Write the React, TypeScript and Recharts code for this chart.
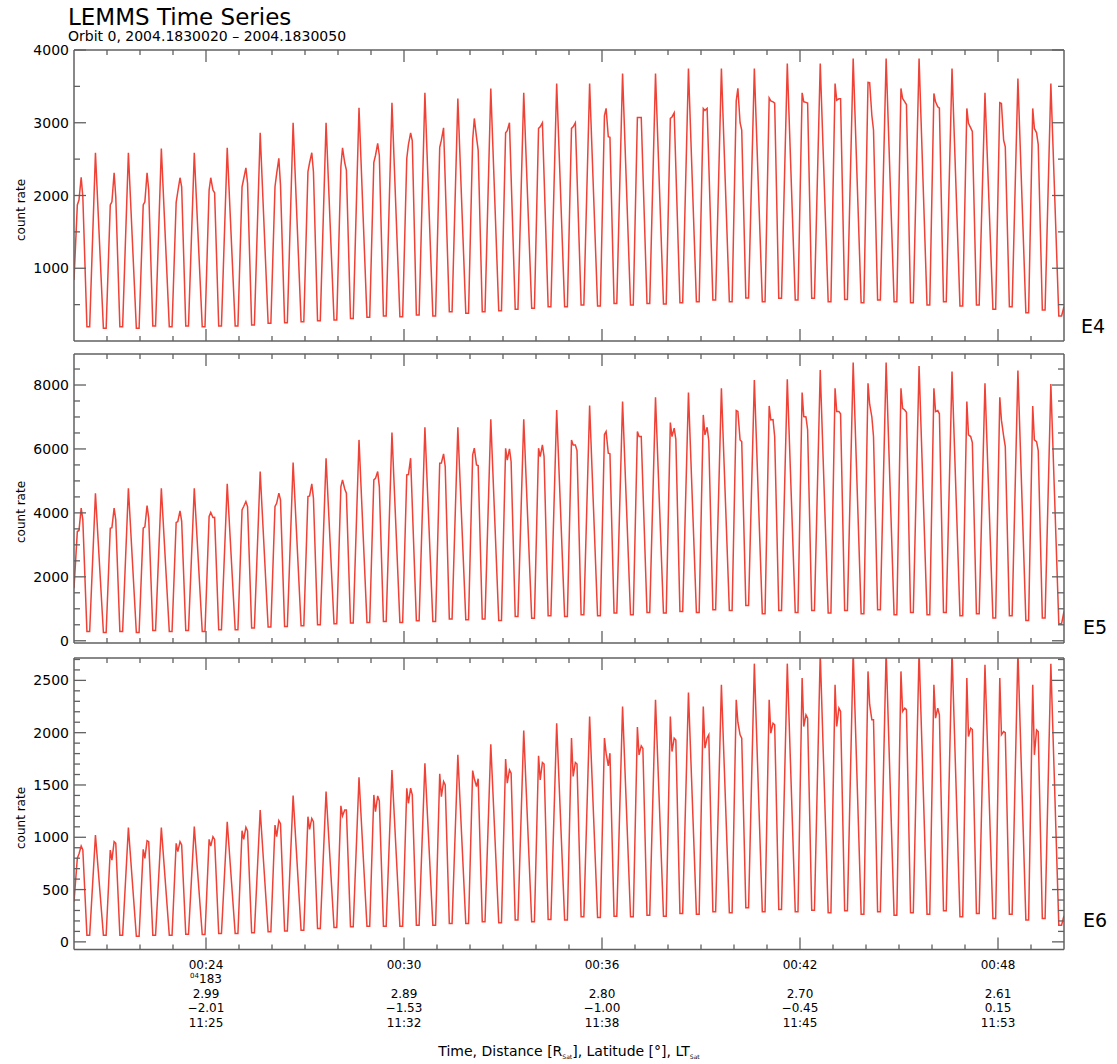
import React from 'react';
import { LineChart, Line, XAxis, YAxis } from 'recharts';

const _ = null;
const FONT = '"DejaVu Sans", "Liberation Sans", sans-serif';
const AXIS_COLOR = '#606060';
const LINE_COLOR = '#ef4136';

// ---- time axis (seconds after 00:20:00) ----
const MINUTE_TICKS = [60, 120, 180, 240, 300, 360, 420, 480, 540, 600, 660, 720, 780, 840, 900, 960, 1020, 1080, 1140, 1200, 1260, 1320, 1380, 1440, 1500, 1560, 1620, 1680, 1740];
const MAJOR_TIMES = [240, 600, 960, 1320, 1680];
const TIME_LABELS = ['00:24', '00:30', '00:36', '00:42', '00:48'];
const DOY_LABELS = ['183', '', '', '', ''];
const DIST_LABELS = ['2.99', '2.89', '2.80', '2.70', '2.61'];
const LAT_LABELS = ['\u22122.01', '\u22121.53', '\u22121.00', '\u22120.45', '0.15'];
const LT_LABELS = ['11:25', '11:32', '11:38', '11:45', '11:53'];

// spin-cycle timing read from trough positions (cycle k = -1 .. 59)
const FIRST_TROUGH = -3.95;
const SPIN_PERIOD = 29.95;
const SLOT_OFFSETS = [-2.5, 2.5, 10, 13, 17, 20];

// ---- E4 ----
const E4_START = 840;
const E4_END = 470;
const E4_TROUGH = [
  _, 197, 174, 197, 174, 206, 197, 206, 197, 206,
  206, 220, 243, 252, 266, 280, 289, 311, 325, 343,
  334, 357, 343, 403, 380, 403, 417, 435, 449, 472,
  472, 495, 481, 517, 495, 517, 508, 527, 540, 563,
  540, 590, 540, 586, 563, 586, 540, 572, 527, 563,
  540, 527, 495, 540, 481, 495, 435, 472, 389, 426,
  343,
];
const E4_A = [
  1870, _, 1870, _, 1870, _, 1905, _, 2075, _,
  2120, _, 2120, _, 2327, _, 2395, _, 2455, _,
  2510, _, 2661, _, 2762, _, 2862, _, 2922, _,
  2922, _, 3100, _, 3073, _, 3059, _, 3197, _,
  3300, _, 3340, _, 3412, _, 3540, _, 3554, _,
  3472, _, 3403, _, 3197, _, 3275, _, 3197, _,
  _,
];
const E4_B = [
  1937, 2588, 1914, 2588, 1914, 2647, 2052, 2588, 2244, 2656,
  2230, 2862, 2300, 3000, 2450, 3000, 2656, 3206, 2550, 3275,
  2700, 3412, 2760, 3334, 3059, 3472, 2890, 3412, 2945, 3540,
  2945, 3540, 3197, 3678, 3073, 3678, 3080, 3746, 3170, 3746,
  3472, 3746, 3300, 3815, 3288, 3815, 3311, 3884, 3550, 3884,
  3334, 3884, 3288, 3746, 2991, 3412, 3265, 3609, 2922, 3540,
  _,
];
const E4_C = [
  2250, _, 2313, _, 2313, _, 2244, _, 2075, _,
  2381, _, 2510, _, 2588, _, 2450, _, 2716, _,
  2862, _, 2931, _, 2800, _, 3000, _, 3000, _,
  3000, _, 2807, _, 3073, _, 3137, _, 3197, _,
  3000, _, 3288, _, 3280, _, 3330, _, 3100, _,
  3288, _, 3220, _, 2930, _, 2762, _, 2862, _,
  _,
];
const E4_D = [
  1983, _, 1983, _, 2075, _, 2120, _, 2038, _,
  2166, _, 2143, _, 2327, _, 2350, _, 2550, _,
  2750, _, _, _, 2624, _, _, _, _, _,
  _, _, 2800, _, _, _, _, _, _, _,
  2900, _, 3270, _, 3270, _, 3330, _, 2900, _,
  3250, _, 3200, _, 2880, _, 2670, _, 2700, _,
  _,
];

// ---- E5 ----
const E5_START = 1646;
const E5_END = 917;
const E5_TROUGH = [
  _, 292, 260, 292, 260, 323, 292, 323, 292, 344,
  344, 396, 427, 448, 469, 500, 531, 552, 573, 604,
  573, 625, 604, 677, 656, 677, 636, 760, 708, 781,
  760, 813, 781, 865, 813, 886, 865, 917, 886, 969,
  948, 1100, 844, 948, 886, 948, 865, 948, 844, 969,
  813, 886, 813, 886, 781, 844, 709, 781, 636, 709,
  531,
];
const E5_A = [
  3417, _, 3522, _, 3522, _, 3699, _, 3887, _,
  4095, _, 4199, _, 4512, _, 4824, _, 5033, _,
  5189, _, 5554, _, 5814, _, 6020, _, 6023, _,
  6283, _, 6450, _, 6544, _, 6825, _, 7065, _,
  7200, _, 7346, _, 7763, _, 7898, _, 8055, _,
  7898, _, 7898, _, 7482, _, 7617, _, 7346, _,
  _,
];
const E5_B = [
  3450, 4616, 3540, 4772, 3560, 4772, 3730, 4772, 4012, 4908,
  4199, 5293, 4300, 5575, 4530, 5710, 5033, 6283, 5080, 6513,
  5200, 6679, 5560, 6679, 6023, 6929, 5650, 6929, 5762, 7221,
  6127, 7357, 6544, 7482, 6388, 7617, 6388, 7763, 6440, 7898,
  7170, 8159, 6908, 8180, 7013, 8471, 7169, 8700, 7400, 8700,
  7273, 8597, 7169, 8419, 6440, 8055, 6900, 8451, 6283, 8034,
  _,
];
const E5_C = [
  4147, _, 4147, _, 4231, _, 4064, _, 3855, _,
  4356, _, 4616, _, 4908, _, 4750, _, 5293, _,
  5710, _, 5846, _, 5502, _, 6000, _, 6127, _,
  6127, _, 5866, _, 6388, _, 6648, _, 6679, _,
  6283, _, 6920, _, 7000, _, 7169, _, 7000, _,
  7220, _, 7200, _, 6388, _, 6400, _, 6230, _,
  _,
];
const E5_D = [
  3782, _, 3782, _, 3835, _, 3740, _, 3860, _,
  4199, _, 4408, _, 4460, _, 4616, _, 4824, _,
  _, _, 5450, _, 5480, _, 5600, _, 5762, _,
  5950, _, 5850, _, _, _, 6300, _, 6250, _,
  6230, _, 6390, _, 6600, _, 7100, _, 6388, _,
  7150, _, 7100, _, 6200, _, 6075, _, 5950, _,
  _,
];

// ---- E6 ----
const E6_START = 383;
const E6_END = 250;
const E6_TROUGH = [
  _, 64, 64, 64, 54, 64, 64, 73, 70, 80,
  80, 86, 96, 105, 112, 128, 137, 144, 150, 150,
  150, 160, 160, 176, 176, 192, 182, 208, 192, 214,
  208, 240, 233, 246, 240, 255, 246, 271, 265, 287,
  278, 327, 287, 310, 287, 303, 278, 297, 265, 287,
  255, 278, 265, 297, 240, 271, 224, 265, 208, 224,
  160,
];
const E6_A = [
  800, _, 878, _, 884, _, 942, _, 980, _,
  1063, _, 1117, _, 1197, _, 1300, _, 1405, _,
  1469, _, 1606, _, 1638, _, 1747, _, 1779, _,
  1948, _, 1948, _, 2053, _, 2155, _, 2251, _,
  2315, _, 2315, _, 2522, _, 2459, _, 2586, _,
  2586, _, 2459, _, 2522, _, 2522, _, 2459, _,
  _,
];
const E6_B = [
  840, 1022, 782, 1092, 798, 1092, 862, 1102, 916, 1149,
  980, 1261, 1006, 1398, 1076, 1437, 1204, 1574, 1245, 1644,
  1325, 1708, 1389, 1788, 1560, 1890, 1517, 2021, 1549, 2091,
  1581, 2155, 1804, 2251, 1788, 2315, 1820, 2385, 1852, 2459,
  2100, 2660, 1996, 2660, 2059, 2760, 2059, 2780, 2270, 2780,
  2203, 2780, 2139, 2780, 1964, 2650, 1980, 2780, 1788, 2660,
  _,
];
const E6_C = [
  916, _, 958, _, 967, _, 958, _, 1006, _,
  1095, _, 1159, _, 1180, _, 1261, _, 1395, _,
  1469, _, 1533, _, 1485, _, 1644, _, 1715, _,
  1715, _, 1683, _, 1874, _, 1948, _, 1950, _,
  1980, _, 2091, _, 2171, _, 2235, _, 2123, _,
  2235, _, 2235, _, 2043, _, 2011, _, 2027, _,
  _,
];
const E6_D = [
  880, _, 942, _, 958, _, 926, _, 980, _,
  1060, _, 1130, _, 1150, _, 1261, _, 1347, _,
  1405, _, 1500, _, 1560, _, 1612, _, 1700, _,
  1700, _, 1804, _, 1850, _, 1930, _, 1980, _,
  1948, _, 2075, _, 2139, _, 2203, _, 2123, _,
  2220, _, 2171, _, 2030, _, 2000, _, 2011, _,
  _,
];

// ---- y-axis ticks ----
const E4_TICKS = [500, 1000, 1500, 2000, 2500, 3000, 3500, 4000];
const E4_LABELED = [1000, 2000, 3000, 4000];
const E5_TICKS = [0, 500, 1000, 1500, 2000, 2500, 3000, 3500, 4000, 4500, 5000, 5500, 6000, 6500, 7000, 7500, 8000, 8500];
const E5_LABELED = [0, 2000, 4000, 6000, 8000];
const E6_TICKS = [0, 100, 200, 300, 400, 500, 600, 700, 800, 900, 1000, 1100, 1200, 1300, 1400, 1500, 1600, 1700, 1800, 1900, 2000, 2100, 2200, 2300, 2400, 2500, 2600, 2700];
const E6_LABELED = [0, 500, 1000, 1500, 2000, 2500];

type Pt = { t: number; v: number };

function buildSeries(start: number, end: number, trough: any[], a: any[], b: any[], c: any[], d: any[]): Pt[] {
  const pts: Pt[] = [{ t: 0, v: start }];
  for (let i = 0; i < trough.length; i++) {
    const T = FIRST_TROUGH + i * SPIN_PERIOD;
    const vals = [trough[i], trough[i], a[i], b[i], c[i], d[i]];
    for (let j = 0; j < SLOT_OFFSETS.length; j++) {
      const t = T + SLOT_OFFSETS[j];
      if (vals[j] != null && t > 0 && t < 1800) pts.push({ t, v: vals[j] });
    }
  }
  pts.push({ t: 1800, v: end });
  return pts;
}

const E4_DATA = buildSeries(E4_START, E4_END, E4_TROUGH, E4_A, E4_B, E4_C, E4_D);
const E5_DATA = buildSeries(E5_START, E5_END, E5_TROUGH, E5_A, E5_B, E5_C, E5_D);
const E6_DATA = buildSeries(E6_START, E6_END, E6_TROUGH, E6_A, E6_B, E6_C, E6_D);

function makeXTick(side: 'top' | 'bottom', withLabels: boolean) {
  return (props: any) => {
    const { x, y, payload } = props;
    const idx = MAJOR_TIMES.indexOf(payload.value);
    const major = idx >= 0;
    const len = major ? 12 : 5;
    const dir = side === 'bottom' ? -1 : 1;
    return (
      <g>
        <line x1={x} y1={y} x2={x} y2={y + dir * len} stroke={AXIS_COLOR} strokeWidth={1.3} />
        {withLabels && major && (
          <g fontFamily={FONT} fontSize={12} fill="#000" textAnchor="middle">
            <text x={x} y={y + 19}>{TIME_LABELS[idx]}</text>
            {DOY_LABELS[idx] !== '' && (
              <text x={x} y={y + 33.5}>
                <tspan fontSize={7} dy={-5}>04</tspan>
                <tspan fontSize={12} dy={5}>{DOY_LABELS[idx]}</tspan>
              </text>
            )}
            <text x={x} y={y + 48}>{DIST_LABELS[idx]}</text>
            <text x={x} y={y + 62.5}>{LAT_LABELS[idx]}</text>
            <text x={x} y={y + 77}>{LT_LABELS[idx]}</text>
          </g>
        )}
      </g>
    );
  };
}

function makeYTick(side: 'left' | 'right', labeled: number[]) {
  return (props: any) => {
    const { x, y, payload } = props;
    const major = labeled.indexOf(payload.value) >= 0;
    const len = major ? 12 : 6;
    const dir = side === 'left' ? 1 : -1;
    return (
      <g>
        <line x1={x} y1={y} x2={x + dir * len} y2={y} stroke={AXIS_COLOR} strokeWidth={1.3} />
        {side === 'left' && major && (
          <text x={x - 5} y={y + 5} textAnchor="end" fontFamily={FONT} fontSize={14} fill="#000">
            {payload.value}
          </text>
        )}
      </g>
    );
  };
}

type PanelProps = {
  data: Pt[];
  domain: [number, number];
  ticks: number[];
  labeled: number[];
  top: number;
  height: number;
  marginTop: number;
  marginBottom: number;
  xAxisHeight: number;
  bottomLabels: boolean;
};

function Panel(p: PanelProps) {
  const axisLine = { stroke: AXIS_COLOR, strokeWidth: 1.5 };
  return (
    <div style={{ position: 'absolute', left: 0, top: p.top, width: 1117, height: p.height }}>
      <LineChart
        width={1117}
        height={p.height}
        data={p.data}
        margin={{ top: p.marginTop, right: 52, bottom: p.marginBottom, left: 0 }}
      >
        <XAxis
          xAxisId="b"
          dataKey="t"
          type="number"
          orientation="bottom"
          domain={[0, 1800]}
          allowDataOverflow
          ticks={MINUTE_TICKS}
          interval={0}
          height={p.xAxisHeight}
          tickSize={0}
          tickMargin={0}
          tickLine={false}
          axisLine={axisLine}
          tick={makeXTick('bottom', p.bottomLabels)}
        />
        <XAxis
          xAxisId="t"
          dataKey="t"
          type="number"
          orientation="top"
          domain={[0, 1800]}
          allowDataOverflow
          ticks={MINUTE_TICKS}
          interval={0}
          height={1}
          tickSize={0}
          tickMargin={0}
          tickLine={false}
          axisLine={axisLine}
          tick={makeXTick('top', false)}
        />
        <YAxis
          yAxisId="l"
          type="number"
          orientation="left"
          domain={p.domain}
          allowDataOverflow
          ticks={p.ticks}
          interval={0}
          width={74}
          tickSize={0}
          tickMargin={0}
          tickLine={false}
          axisLine={axisLine}
          tick={makeYTick('left', p.labeled)}
        />
        <YAxis
          yAxisId="r"
          type="number"
          orientation="right"
          domain={p.domain}
          allowDataOverflow
          ticks={p.ticks}
          interval={0}
          width={1}
          tickSize={0}
          tickMargin={0}
          tickLine={false}
          axisLine={axisLine}
          tick={makeYTick('right', p.labeled)}
        />
        <Line
          xAxisId="t"
          yAxisId="r"
          type="linear"
          dataKey="v"
          stroke="none"
          strokeWidth={0}
          dot={false}
          activeDot={false}
          isAnimationActive={false}
        />
        <Line
          xAxisId="b"
          yAxisId="l"
          type="linear"
          dataKey="v"
          stroke={LINE_COLOR}
          strokeWidth={1.5}
          dot={false}
          activeDot={false}
          isAnimationActive={false}
        />
      </LineChart>
    </div>
  );
}

export default function App() {
  return (
    <div style={{ position: 'absolute', left: 0, top: 0, width: 1117, height: 1064, background: '#fff' }}>
      <Panel data={E4_DATA} domain={[0, 4000]} ticks={E4_TICKS} labeled={E4_LABELED}
        top={0} height={352} marginTop={49} marginBottom={10} xAxisHeight={1} bottomLabels={false} />
      <Panel data={E5_DATA} domain={[-70, 8970]} ticks={E5_TICKS} labeled={E5_LABELED}
        top={345} height={310} marginTop={8} marginBottom={11} xAxisHeight={1} bottomLabels={false} />
      <Panel data={E6_DATA} domain={[-73, 2714]} ticks={E6_TICKS} labeled={E6_LABELED}
        top={647} height={417} marginTop={10} marginBottom={14.5} xAxisHeight={100} bottomLabels={true} />
      <svg width={1117} height={1064} style={{ position: 'absolute', left: 0, top: 0, pointerEvents: 'none' }}>
        <g fontFamily={FONT} fill="#000">
          <text x={68} y={25} fontSize={23}>LEMMS Time Series</text>
          <text x={68} y={41} fontSize={14}>Orbit 0, 2004.1830020 – 2004.1830050</text>
          <text x={1081} y={333} fontSize={19}>E4</text>
          <text x={1083} y={634} fontSize={19}>E5</text>
          <text x={1083} y={927} fontSize={19}>E6</text>
          <text transform="translate(25,210) rotate(-90)" textAnchor="middle" fontSize={12}>count rate</text>
          <text transform="translate(25,512) rotate(-90)" textAnchor="middle" fontSize={12}>count rate</text>
          <text transform="translate(25,818) rotate(-90)" textAnchor="middle" fontSize={12}>count rate</text>
          <text x={569} y={1056} textAnchor="middle" fontSize={14}>
            Time, Distance [R<tspan fontSize={6} dy={3}>Sat</tspan><tspan dy={-3}>], Latitude [°], LT</tspan><tspan fontSize={6} dy={3}>Sat</tspan>
          </text>
        </g>
      </svg>
    </div>
  );
}
